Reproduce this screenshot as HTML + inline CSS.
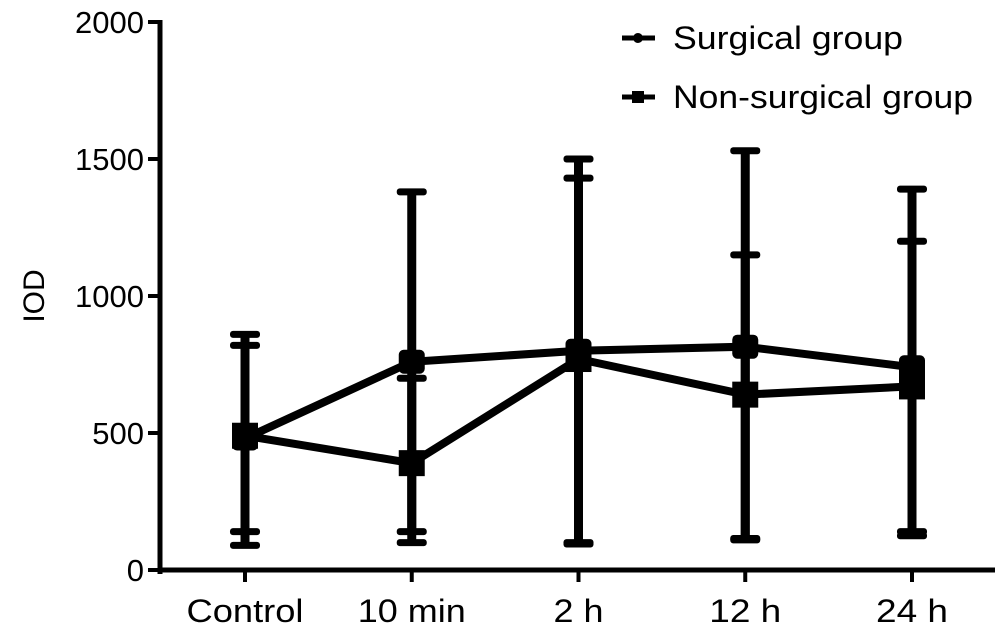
<!DOCTYPE html>
<html><head><meta charset="utf-8"><style>
html,body{margin:0;padding:0;background:#fff;}
svg{display:block;font-family:"Liberation Sans",Arial,sans-serif;}
</style></head><body>
<svg id="chart" width="997" height="638" viewBox="0 0 997 638"></svg>
<script>
const categories=["Control","10 min","2 h","12 h","24 h"];
const surgicalMean=[480,760,800,815,740];
const surgicalUpper=[860,1380,1500,1530,1390];
const surgicalLower=[90,140,100,115,140];
const nonSurgicalMean=[490,390,770,640,670];
const nonSurgicalUpper=[820,700,1430,1150,1200];
const nonSurgicalLower=[140,100,95,110,125];
const yTicks=[0,500,1000,1500,2000];
const xLabelWidths=[117,108,50,72,72];

const NS="http://www.w3.org/2000/svg";
const svg=document.getElementById('chart');
const x0=160,x1=995,yTop=22,yBot=570;
function y(v){return yBot-(v/2000)*(yBot-yTop);}
function x(i){return 245+i*166.75;}
function el(t,a,p){const e=document.createElementNS(NS,t);for(const k in a)e.setAttribute(k,a[k]);(p||svg).appendChild(e);return e;}

const ax=el('g',{});


el('line',{x1:x0,y1:yTop-2,x2:x0,y2:yBot+4,stroke:'#000','stroke-width':5},ax);
el('line',{x1:x0-2,y1:yBot,x2:x1,y2:yBot,stroke:'#000','stroke-width':5},ax);
yTicks.forEach(v=>{
  el('line',{x1:x0-12,y1:y(v),x2:x0,y2:y(v),stroke:'#000','stroke-width':4},ax);
  const t=el('text',{x:x0-16,y:y(v)+11,'text-anchor':'end','font-size':31},ax);
  t.textContent=v;
  
  
});
categories.forEach((c,i)=>{
  el('line',{x1:x(i),y1:yBot,x2:x(i),y2:yBot+12,stroke:'#000','stroke-width':4},ax);
  const t=el('text',{x:x(i),y:yBot+52,'text-anchor':'middle','font-size':32,textLength:xLabelWidths[i],lengthAdjust:'spacingAndGlyphs'},ax);
  t.textContent=c;
  
  
});
const yt=el('text',{x:0,y:0,'text-anchor':'middle','font-size':30,transform:`translate(44,${y(1000)}) rotate(-90)`});
yt.textContent='IOD';



function errBars(lo,hi,name){
  const g=el('g',{});
  
  
  categories.forEach((c,i)=>{
    el('line',{x1:x(i),y1:y(lo[i]),x2:x(i),y2:y(hi[i]),stroke:'#000','stroke-width':9},g);
    [lo[i],hi[i]].forEach(v=>el('rect',{x:x(i)-15,y:y(v)-3.5,width:30,height:7,rx:3,fill:'#000'},g));
  });
}
errBars(surgicalLower,surgicalUpper,'surgical-error-bars');
errBars(nonSurgicalLower,nonSurgicalUpper,'non-surgical-error-bars');

function series(vals,name,marker){
  const g=el('g',{});
  
  
  el('polyline',{points:vals.map((v,i)=>x(i)+','+y(v)).join(' '),fill:'none',stroke:'#000','stroke-width':8},g);
  vals.forEach((v,i)=>{
    let m;
    if(marker==='sq') m=el('rect',{x:x(i)-13,y:y(v)-13,width:26,height:26,fill:'#000'},g);
    else m=el('rect',{x:x(i)-13,y:y(v)-12,width:26,height:24,rx:5,fill:'#000'},g);
    
    
  });
}
series(surgicalMean,'surgical-series','dm');
series(nonSurgicalMean,'non-surgical-series','sq');

const lg=el('g',{});


[['Surgical group',38,'c',230],['Non-surgical group',97,'s',300]].forEach(([lab,cy,m,w])=>{
  const e=el('g',{},lg);
  
  
  el('line',{x1:622,y1:cy,x2:655,y2:cy,stroke:'#000','stroke-width':5},e);
  if(m==='c') el('circle',{cx:638,cy:cy,r:5,fill:'#000'},e);
  else el('rect',{x:632,y:cy-6,width:12,height:12,fill:'#000'},e);
  const t=el('text',{x:673,y:cy+11,'font-size':32,textLength:w,lengthAdjust:'spacingAndGlyphs'},e);
  t.textContent=lab;
});
</script>
</body></html>
